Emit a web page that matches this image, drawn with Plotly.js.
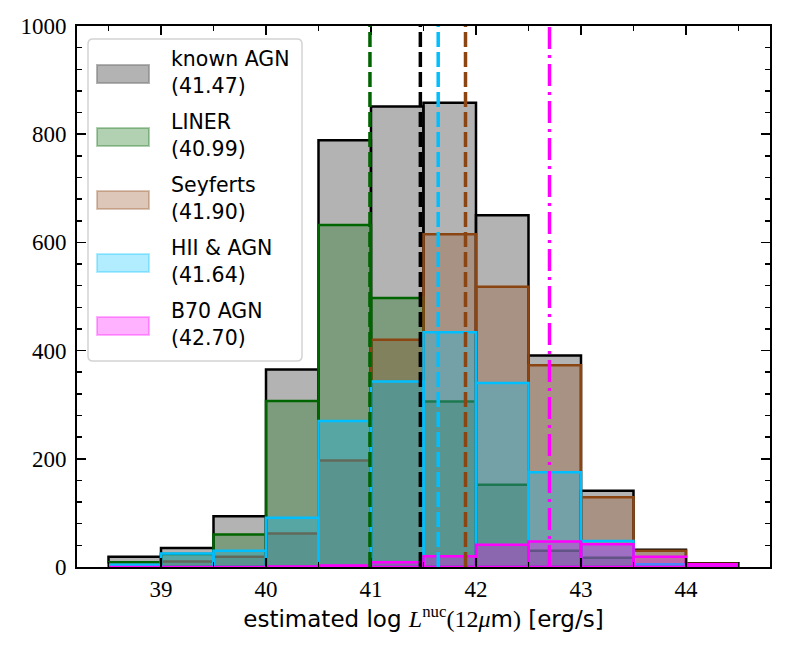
<!DOCTYPE html>
<html>
<head>
<meta charset="utf-8">
<script src="https://cdn.plot.ly/plotly-3.0.1.min.js"></script>
<style>
  html, body { margin: 0; padding: 0; background: #fff; }
  #chart { width: 789px; height: 651px; }
</style>
</head>
<body>
<div id="chart"></div>
<script>
// histogram bins: centres of 0.5-wide bins from 38.5 to 44.5
const binCenters = [38.75, 39.25, 39.75, 40.25, 40.75, 41.25, 41.75, 42.25, 42.75, 43.25, 43.75, 44.25];
const binWidth = 0.5;

// counts per bin
const knownAGN = [19, 35, 94, 365, 789, 851, 858, 650, 391, 141, 32, 7];
const liner    = [9, 24, 60, 307, 632, 497, 306, 152, 30, 17, 2, 0];
const seyferts = [2, 10, 19, 62, 197, 420, 615, 518, 373, 129, 30, 6];
const hiiAGN   = [4, 25, 30, 91, 270, 343, 434, 340, 175, 48, 5, 1];
const b70AGN   = [0, 0, 0, 1, 3, 9, 20, 41, 47, 42, 19, 5];

const seriesNames = ['known AGN', 'LINER', 'Seyferts', 'HII & AGN', 'B70 AGN'];
const seriesMeans = [41.47, 40.99, 41.90, 41.64, 42.70];

const xTicks = [39, 40, 41, 42, 43, 44];
const yTicks = [0, 200, 400, 600, 800, 1000];

const series = [knownAGN, liner, seyferts, hiiAGN, b70AGN];
const edgeColors = ['#000000', '#006400', '#8B4513', '#00BFFF', '#FF00FF'];
const fillColors = [
    'rgba(128,128,128,0.6)',
    'rgba(0,100,0,0.3)',
    'rgba(139,69,19,0.3)',
    'rgba(0,191,255,0.3)',
    'rgba(255,0,255,0.3)'
];
const meanDash = ['15px,5px', '15px,5px', '15px,5px', '15px,5px', '22px,6px,3px,6px'];

const SERIF = '"Liberation Serif", "DejaVu Serif", serif';
const SANS = '"DejaVu Sans", "Noto Sans", sans-serif';

const traces = series.map((counts, i) => ({
    type: 'bar',
    x: binCenters,
    y: counts,
    width: binWidth,
    name: seriesNames[i],
    marker: {
        color: fillColors[i],
        line: { color: edgeColors[i], width: 2.5 }
    },
    showlegend: false,
    hoverinfo: 'skip'
}));

// plot area in pixels, used to place the hand drawn legend
const plotL = 77, plotR = 770, plotT = 26, plotB = 567;
const px = v => (v - plotL) / (plotR - plotL);
const py = v => (plotB - v) / (plotB - plotT);

const shapes = [];
const annotations = [];

// mean lines
seriesMeans.forEach((m, i) => {
    shapes.push({
        type: 'line',
        xref: 'x', yref: 'paper',
        x0: m, x1: m, y0: 0, y1: 1,
        line: { color: edgeColors[i], width: 3.5, dash: meanDash[i] },
        layer: 'above'
    });
});

// legend frame with rounded corners
function roundedRect(x0, y0, x1, y1, r) {
    const rx = r / (plotR - plotL), ry = r / (plotB - plotT);
    return `M${x0 + rx},${y1} L${x1 - rx},${y1} Q${x1},${y1} ${x1},${y1 - ry} ` +
        `L${x1},${y0 + ry} Q${x1},${y0} ${x1 - rx},${y0} L${x0 + rx},${y0} ` +
        `Q${x0},${y0} ${x0},${y0 + ry} L${x0},${y1 - ry} Q${x0},${y1} ${x0 + rx},${y1} Z`;
}
shapes.push({
    type: 'path', xref: 'paper', yref: 'paper',
    path: roundedRect(px(88), py(361), px(302), py(39), 5),
    fillcolor: 'rgba(255,255,255,0.8)',
    line: { color: '#d3d3d3', width: 1.5 },
    layer: 'above'
});

seriesNames.forEach((name, i) => {
    const cy = 74 + 63 * i;
    shapes.push({
        type: 'rect', xref: 'paper', yref: 'paper',
        x0: px(97), x1: px(149), y0: py(cy + 9), y1: py(cy - 9),
        fillcolor: fillColors[i],
        line: { color: fillColors[i], width: 2 },
        layer: 'above'
    });
    annotations.push({
        xref: 'paper', yref: 'paper',
        x: px(169), y: py(cy - 1.5),
        xanchor: 'left', yanchor: 'middle', align: 'left',
        showarrow: false,
        text: `${name}<br>(${seriesMeans[i].toFixed(2)})`,
        font: { family: SANS, size: 20.5, color: '#000' }
    });
});

const sf = `font-family:${SERIF.replace(/"/g, "'")};font-size:24px`;
const xTitle = `estimated log <span style="${sf}"><i>L</i><sup>nuc</sup>(12<i>μ</i></span>m<span style="${sf}">)</span> [erg/s]`;

const axisCommon = {
    showline: true,
    linecolor: '#000',
    linewidth: 2,
    mirror: 'allticks',
    ticks: 'inside',
    ticklen: 9,
    tickwidth: 1.5,
    tickcolor: '#000',
    showgrid: false,
    zeroline: false,
    tickfont: { family: SERIF, size: 23, color: '#000' }
};

const layout = {
    width: 789,
    height: 651,
    margin: { l: plotL, r: 789 - plotR, t: plotT, b: 651 - plotB },
    paper_bgcolor: '#fff',
    plot_bgcolor: '#fff',
    barmode: 'overlay',
    bargap: 0,
    showlegend: false,
    xaxis: Object.assign({}, axisCommon, {
        range: [38.2, 44.8],
        tickvals: xTicks,
        ticktext: xTicks.map(String),
        minor: { dtick: 0.5, tick0: 38.5, ticks: 'inside', ticklen: 5, tickwidth: 1.5, tickcolor: '#000' },
        title: { text: xTitle, font: { family: SANS, size: 23, color: '#000' }, standoff: 1 }
    }),
    yaxis: Object.assign({}, axisCommon, {
        range: [0, 1000],
        tickvals: yTicks,
        ticktext: yTicks.map(String),
        ticklabelstandoff: 4,
        minor: { dtick: 40, tick0: 0, ticks: 'inside', ticklen: 5, tickwidth: 1.5, tickcolor: '#000' }
    }),
    shapes: shapes,
    annotations: annotations
};

Plotly.newPlot('chart', traces, layout, { displayModeBar: false, staticPlot: true });
</script>
</body>
</html>
